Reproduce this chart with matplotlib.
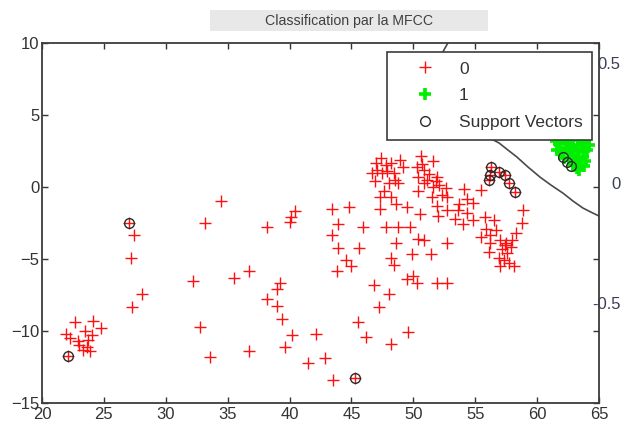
import matplotlib
matplotlib.use("Agg")
import matplotlib.pyplot as plt
from matplotlib.patches import Rectangle

plt.rcParams['font.family'] = ['Liberation Sans', 'DejaVu Sans']

# Class 0 samples (MFCC features)
x0 = [27.05, 27.4, 27.2, 28.1, 27.3,
      21.9, 22.7, 24.1, 24.8, 23.5, 22.9, 23.6, 23.9, 23.3, 22.3, 24.0, 22.1, 23.0, 23.7,
      34.5, 33.2, 38.2, 40.4, 40.0, 40.1, 32.2, 35.5, 36.7, 39.2, 39.0, 38.2, 39.0, 39.4,
      40.2, 39.6, 42.1, 32.8, 33.6, 36.7, 41.5, 42.9, 43.5, 45.3, 45.5, 46.2, 48.2, 49.6,
      43.4, 44.8, 43.9, 45.9, 43.4, 43.9, 45.6, 44.6, 45.0, 43.8,
      46.8, 48.0, 47.2, 48.2, 48.4, 50.0, 50.3, 49.5, 51.9, 52.7,
      49.9, 51.4, 48.6, 50.4, 50.9, 52.7, 47.8, 48.8, 49.7, 47.3, 48.6, 49.5, 50.5, 52.0,
      52.7, 53.4, 51.9,
      47.4, 47.0, 47.8, 48.2, 48.9, 49.2, 46.7, 47.5, 48.4, 48.8, 48.0, 47.6, 48.2, 47.3,
      47.1, 47.9, 48.5, 46.9,
      50.6, 51.6, 50.3, 50.9, 51.3, 51.9, 50.4, 50.9, 51.6, 52.1, 52.6, 52.3, 50.4, 51.5,
      52.7, 51.1, 51.8, 50.7,
      54.1, 55.5, 54.3, 53.7, 54.8, 53.6, 54.3, 54.8, 54.0, 55.8, 56.5, 56.7, 55.9, 55.5,
      56.2, 57.0, 57.5, 57.9, 57.2, 58.0, 58.9, 58.8, 58.3, 56.1, 56.9, 57.3, 57.7, 58.1,
      57.0, 56.2, 57.6, 57.4,
      56.3, 56.2, 56.1, 56.9, 57.4, 57.7, 58.2]
y0 = [-2.5, -3.3, -4.95, -7.4, -8.3,
      -10.2, -9.35, -9.3, -9.8, -10.0, -10.7, -11.1, -11.4, -11.3, -10.5, -10.3, -11.75, -11.0, -10.6,
      -1.0, -2.5, -2.8, -1.7, -2.4, -2.1, -6.5, -6.35, -5.8, -6.7, -7.1, -7.8, -8.26, -9.2,
      -10.3, -11.1, -10.2, -9.7, -11.8, -11.4, -12.2, -11.9, -13.4, -13.25, -9.35, -10.4, -10.9, -10.1,
      -1.55, -1.4, -2.6, -2.8, -3.3, -4.26, -4.26, -5.07, -5.5, -5.8,
      -6.8, -7.4, -8.3, -4.95, -5.4, -6.2, -6.7, -6.4, -6.7, -6.7,
      -4.65, -4.65, -3.87, -3.6, -3.7, -3.9, -2.75, -2.8, -2.75, -1.55, -1.2, -1.4, -1.9, -2.0,
      -1.6, -2.2, -1.3,
      2.0, 1.65, 1.5, 1.65, 1.9, 1.4, 0.95, 0.95, 0.95, 0.25, 0.25, -0.3, -0.7, -0.7,
      1.2, 1.1, 0.5, 0.4,
      2.15, 1.8, 1.4, 1.2, 0.9, 0.7, 0.7, 0.25, 0.0, 0.15, -0.1, -0.55, -0.3, -0.7,
      -0.7, 0.5, 0.45, 1.6,
      -0.15, -0.2, -0.8, -1.2, -1.1, -1.6, -1.8, -2.3, -2.6, -2.1, -2.3, -3.0, -2.9, -3.45,
      -3.9, -3.7, -3.9, -4.2, -4.3, -3.7, -1.6, -2.5, -3.2, -4.5, -4.9, -5.1, -5.3, -5.5,
      -5.5, -3.3, -4.6, -4.0,
      1.4, 0.83, 0.49, 1.06, 0.83, 0.25, -0.33]

# Class 1 samples
x1 = [61.5, 61.8, 62.1, 62.4, 62.7, 62.9, 63.3, 63.6, 63.9, 64.2,
      61.6, 61.9, 62.3, 62.5, 62.8, 63.1, 63.4, 63.8, 64.0,
      62.2, 62.6, 63.0, 63.3, 63.7, 63.9,
      62.9, 63.2, 63.6, 63.8, 63.4]
y1 = [3.2, 3.0, 3.3, 3.1, 3.25, 2.95, 3.3, 3.1, 3.2, 2.9,
      2.6, 2.45, 2.7, 2.5, 2.65, 2.35, 2.75, 2.5, 2.55,
      2.0, 1.9, 2.15, 1.85, 2.05, 1.8,
      1.5, 1.35, 1.6, 1.45, 1.2]

# Support vectors
svx = [27.05, 22.1, 45.3, 56.3, 56.2, 56.1, 56.9, 57.4, 57.7, 58.2, 62.1, 62.4, 62.7]
svy = [-2.5, -11.75, -13.25, 1.4, 0.83, 0.49, 1.06, 0.83, 0.25, -0.33, 2.1, 1.74, 1.46]

# Decision boundary (zero level of the classifier)
bx = [53.0, 52.79, 52.47, 52.15, 51.9, 52.0, 52.55, 53.76, 55.38, 56.92, 57.64, 58.37,
      59.26, 60.23, 61.11, 62.08, 62.89, 63.70, 64.34, 64.99, 65.5]
by = [10.5, 10.0, 9.51, 8.96, 8.1, 7.1, 5.7, 4.65, 3.75, 3.06, 2.57, 2.08,
      1.39, 0.69, 0.14, -0.42, -0.97, -1.46, -1.74, -2.01, -2.2]

xticks = [20, 25, 30, 35, 40, 45, 50, 55, 60, 65]
yticks = [-15, -10, -5, 0, 5, 10]
score_ticks = [-0.5, 0, 0.5]

W, H = 622, 425
fig = plt.figure(figsize=(W / 100, H / 100), dpi=100)
ax = fig.add_axes([42 / W, 1 - 403 / H, 557 / W, 360 / H])

ax.plot(bx, by, color='#4a4a4a', lw=1.2, zorder=2)
h0, = ax.plot(x0, y0, ls='none', marker='+', ms=9, mew=1.0, color='#ff1010', zorder=3)
h1, = ax.plot(x1, y1, ls='none', marker='+', ms=9, mew=2.6, color='#00ee00', zorder=3)
hs, = ax.plot(svx, svy, ls='none', marker='o', ms=7, mew=1.0, mfc='none', mec='#2a2a2a', zorder=4)

ax.set_xlim(20, 65)
ax.set_ylim(-15, 10)
ax.set_xticks(xticks)
ax.set_yticks(yticks)
ax.tick_params(direction='in', top=True, right=True, length=4, width=1.0,
               color='#333333', labelsize=12, labelcolor='#333333', pad=2)
ax.tick_params(axis='x', pad=3)
for s in ax.spines.values():
    s.set_color('#3c3c3c')
    s.set_linewidth(1.3)

leg = ax.legend([h0, h1, hs], ['0', '1', 'Support Vectors'],
                loc='upper right', bbox_to_anchor=(592 / W, 1 - 52 / H),
                bbox_transform=fig.transFigure, borderaxespad=0,
                fontsize=12.5, numpoints=1, handlelength=3.3, handletextpad=0.3,
                labelspacing=0.68, borderpad=0.54, fancybox=False, framealpha=1,
                edgecolor='#3c3c3c')
leg.get_frame().set_linewidth(1.2)
for t in leg.get_texts():
    t.set_color('#333333')

# Score axis of the boundary contour, placed just past the right edge
ax2 = fig.add_axes([626 / W, 1 - 403 / H, 10 / W, 360 / H])
ax2.set_ylim(-0.917, 0.583)
ax2.set_yticks(score_ticks)
ax2.set_yticklabels(['-0.5', '0', '0.5'])
ax2.set_xticks([])
ax2.patch.set_visible(False)
for s in ax2.spines.values():
    s.set_visible(False)
ax2.tick_params(axis='y', length=0, labelsize=12, labelcolor='#3a3f55', pad=4)

# Title banner
fig.patches.append(Rectangle((210 / W, 1 - 31 / H), 278 / W, 21 / H,
                             transform=fig.transFigure, facecolor='#e8e8e8',
                             edgecolor='none', zorder=0))
fig.text(349 / W, 1 - 20.5 / H, 'Classification par la MFCC', ha='center', va='center',
         fontsize=10.2, color='#404040')

fig.savefig('out.png', dpi=100)
